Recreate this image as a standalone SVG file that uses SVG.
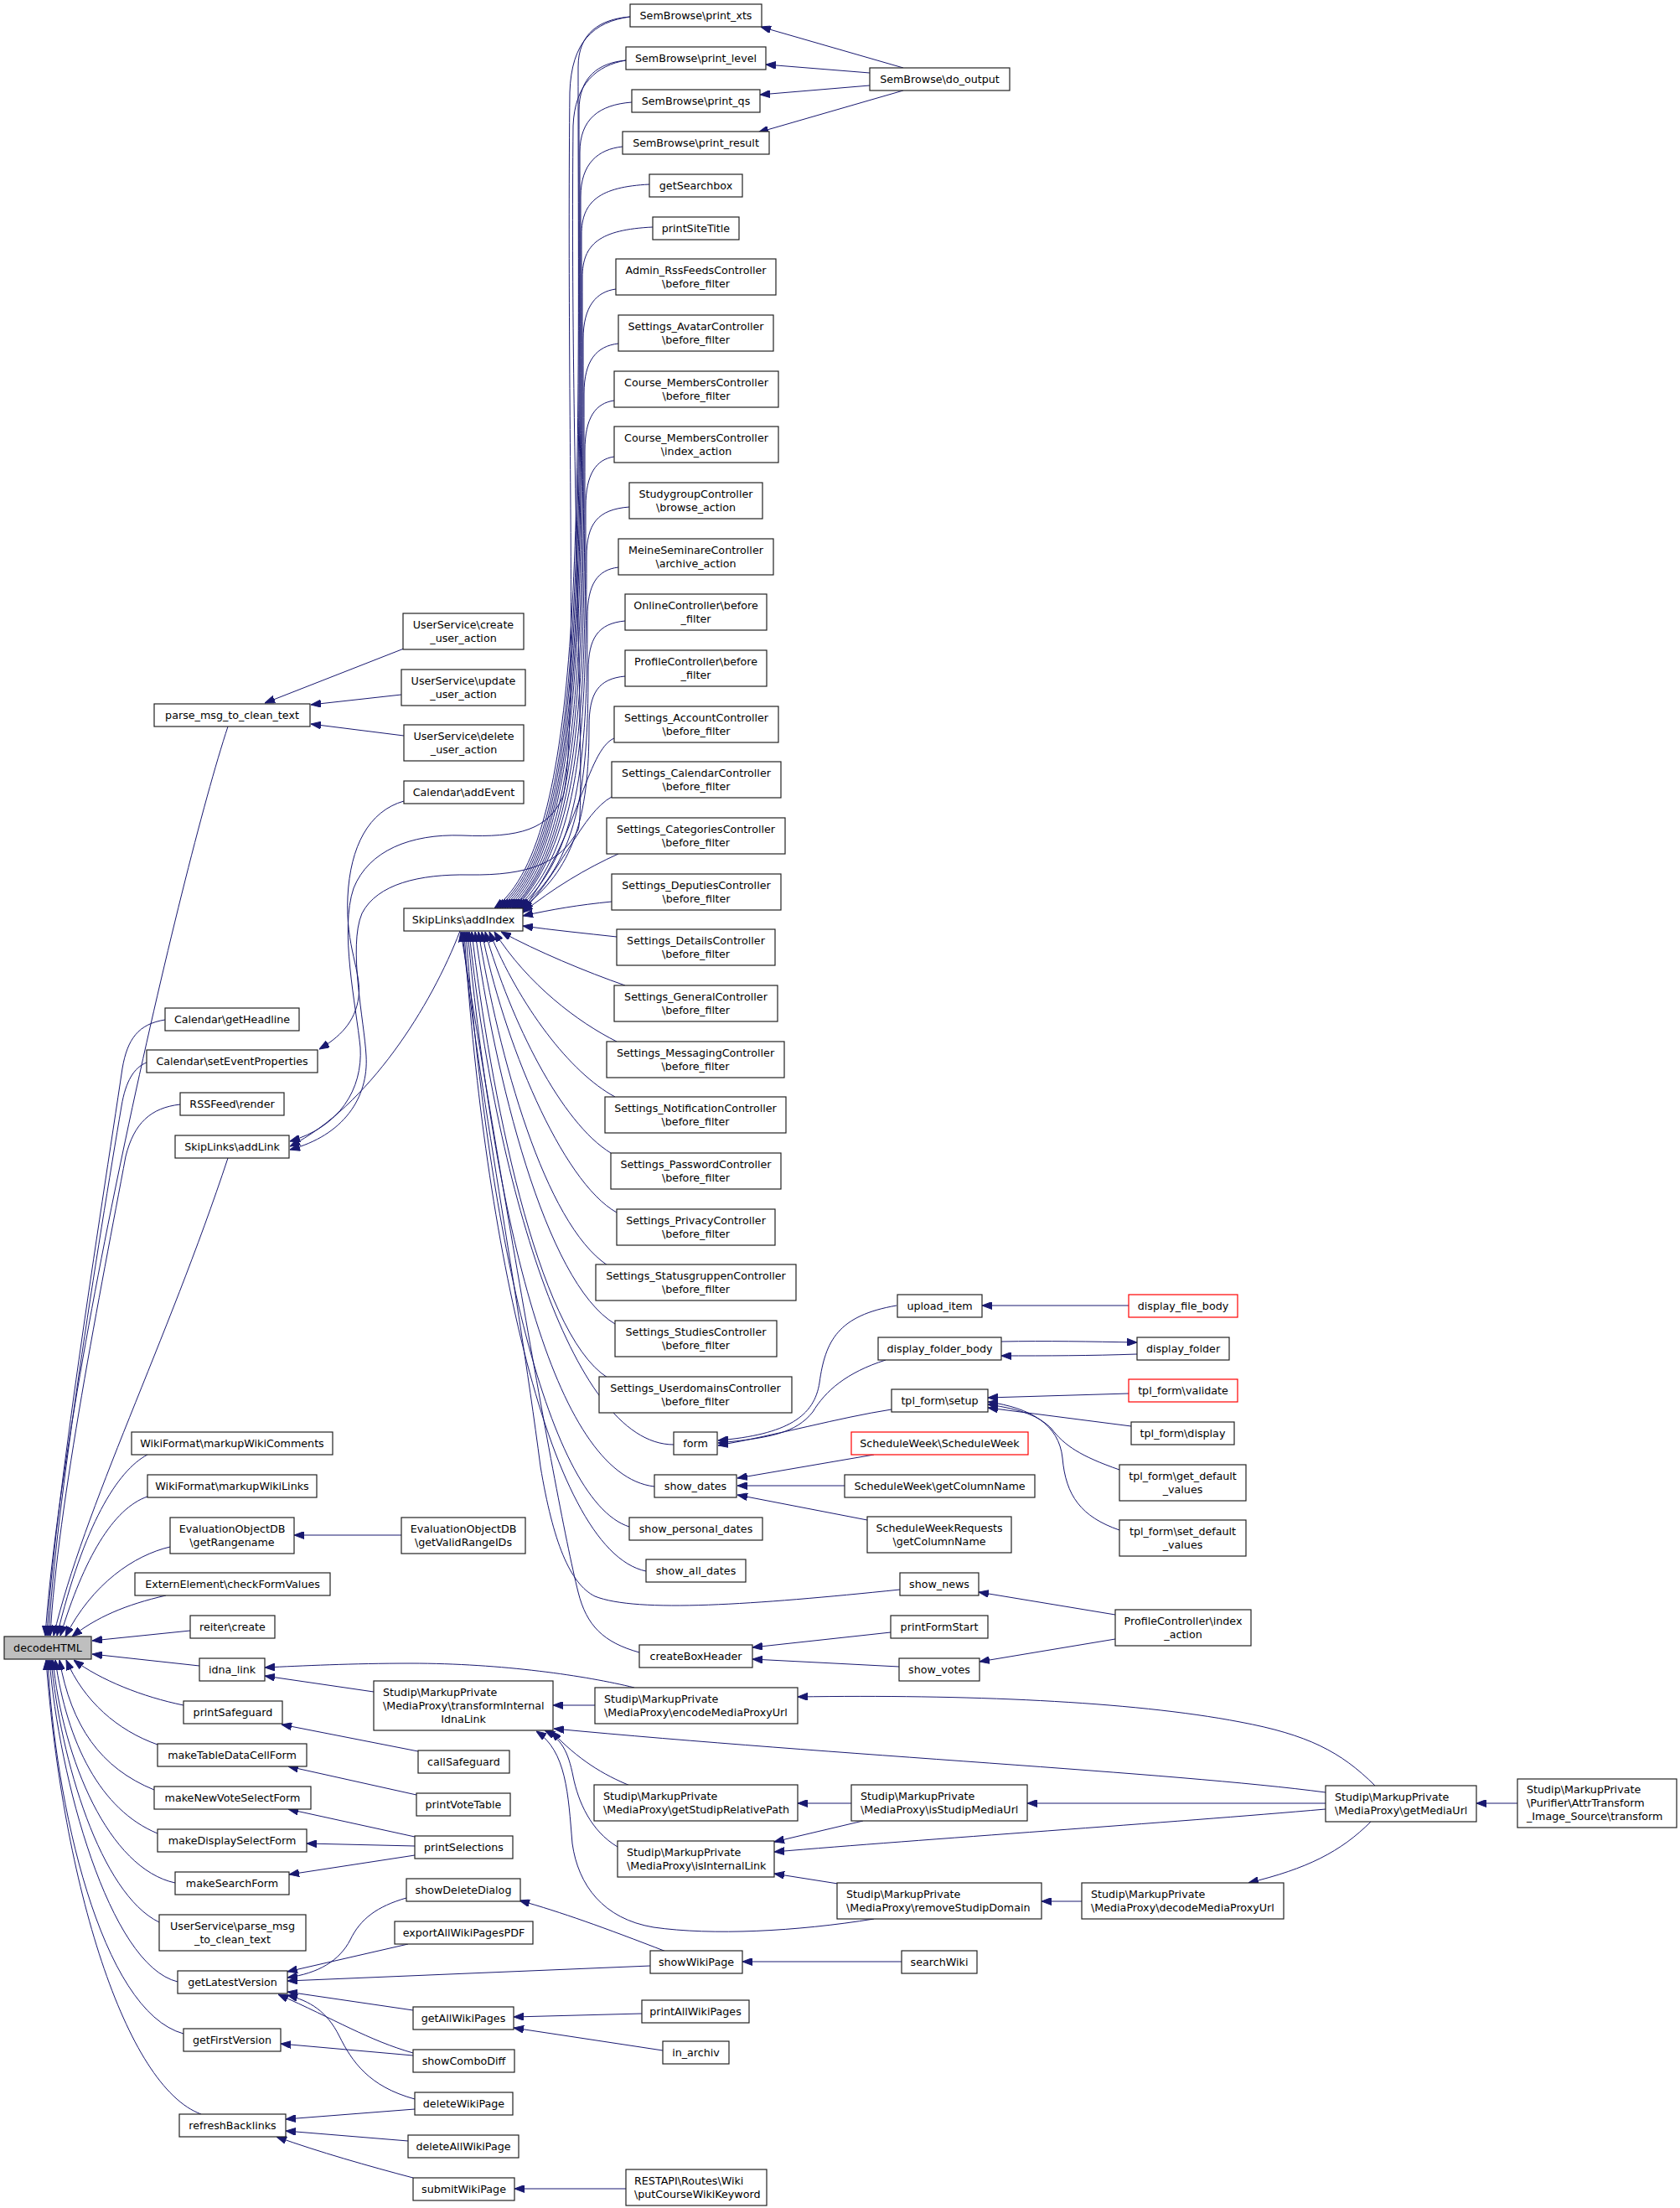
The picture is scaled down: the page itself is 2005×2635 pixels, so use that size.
<svg xmlns="http://www.w3.org/2000/svg" width="2005" height="2635" viewBox="0 0 2005 2635">
<defs>
<marker id="a" markerWidth="12" markerHeight="9" refX="12" refY="4.5" orient="auto" markerUnits="userSpaceOnUse"><path d="M0,0 L12,4.5 L0,9 z" fill="#191970" stroke="#191970" stroke-width="1"/></marker>
<style>
.n rect{fill:#fff;stroke:#222;stroke-width:1.2}
.r rect{stroke:#ff0000}
.g rect{fill:#bfbfbf}
text{font-family:"DejaVu Sans","Liberation Sans",sans-serif;font-size:12.7px;fill:#000}
.c{text-anchor:middle}
#edges path{fill:none;stroke:#191970;stroke-width:1;marker-end:url(#a)}
</style>
</defs>
<rect x="0" y="0" width="2005" height="2635" fill="#fff"/>
<g id="edges">
<path d="M272,867 C215,1040 75,1650 54,1952"/>
<path d="M197,1217 C165,1222 152,1240 146,1275 C120,1450 64,1800 56,1952"/>
<path d="M175,1268 C160,1274 150,1290 145,1320 C118,1480 66,1800 58,1952"/>
<path d="M215,1318 C180,1322 160,1340 150,1380 C122,1530 68,1800 60,1952"/>
<path d="M272,1382 C200,1600 100,1800 64,1952"/>
<path d="M176,1736 C140,1755 100,1820 68,1952"/>
<path d="M176,1786 C135,1800 100,1860 72,1952"/>
<path d="M203,1846 C160,1856 110,1890 78,1953"/>
<path d="M198,1904 C150,1915 115,1930 86,1953"/>
<path d="M227,1946 L110,1958"/>
<path d="M238,1988 L110,1974"/>
<path d="M219,2035 C170,2025 120,2005 88,1981"/>
<path d="M188,2082 C140,2065 100,2030 79,1981"/>
<path d="M184,2136 C120,2110 85,2060 71,1981"/>
<path d="M188,2188 C120,2160 80,2080 66,1981"/>
<path d="M209,2247 C130,2230 75,2100 63,1981"/>
<path d="M190,2294 C120,2260 72,2100 61,1981"/>
<path d="M212,2365 C130,2345 70,2120 59,1981"/>
<path d="M219,2427 C120,2400 65,2150 57,1981"/>
<path d="M240,2523 C150,2490 75,2250 55,1981"/>
<path d="M482,774 L316,839"/>
<path d="M479,829 L371,841"/>
<path d="M482,878 L371,864"/>
<path d="M482,956 C440,968 418,1010 415,1070 C412,1130 432,1160 428,1190 C424,1220 405,1238 381,1252"/>
<path d="M549,1111 C515,1200 440,1320 346,1368"/>
<path d="M752,20 C708,26 682,50 680,110 C676,500 690,880 672,950 C655,990 620,1000 551,997 C490,995 440,1015 422,1060 C405,1110 425,1200 430,1250 C433,1300 405,1345 346,1362"/>
<path d="M747,72 C712,78 686,100 684,150 C680,550 700,960 690,990 C670,1030 630,1045 560,1044 C500,1043 450,1055 432,1090 C415,1130 435,1220 437,1260 C440,1310 410,1355 346,1372"/>
<path d="M752,20 C715,23 690,40 690,80 C690,582 702,1000 590,1084"/>
<path d="M747,72 C714,75 691,92 691,132 C691,608 702,1000 593,1084"/>
<path d="M754,122 C715,125 692,142 692,182 C692,633 701,1000 596,1084"/>
<path d="M743,175 C714,178 693,195 693,235 C693,660 700,1000 599,1084"/>
<path d="M775,220 C716,223 694,240 694,280 C694,682 699,1000 602,1084"/>
<path d="M779,271 C716,274 695,291 695,331 C695,708 698,1000 605,1084"/>
<path d="M735,345 C712,348 696,365 696,405 C696,745 697,1000 608,1084"/>
<path d="M738,410 C712,413 697,430 697,470 C697,777 696,1000 611,1084"/>
<path d="M733,478 C711,481 698,498 698,538 C698,811 695,1000 613,1084"/>
<path d="M733,545 C712,548 699,565 699,605 C699,845 694,1000 615,1084"/>
<path d="M751,605 C713,608 700,625 700,665 C700,875 692,1010 617,1084"/>
<path d="M738,677 C713,680 701,697 701,737 C701,910 690,1020 619,1084"/>
<path d="M746,741 C714,744 702,761 702,801 C702,942 688,1030 621,1084"/>
<path d="M746,807 C714,810 703,827 703,867 C703,975 684,1040 622,1084"/>
<path d="M733,881 C700,895 690,1000 624,1085"/>
<path d="M730,951 C695,970 670,1040 624,1087"/>
<path d="M738,1019 C700,1036 660,1060 624,1089"/>
<path d="M730,1076 C690,1080 660,1085 624,1093"/>
<path d="M736,1118 C700,1114 660,1110 624,1105"/>
<path d="M746,1176 C700,1160 640,1135 598,1112"/>
<path d="M736,1243 C690,1220 630,1175 590,1112"/>
<path d="M734,1309 C680,1280 620,1200 584,1112"/>
<path d="M729,1376 C670,1340 610,1220 579,1112"/>
<path d="M736,1447 C670,1410 600,1240 575,1112"/>
<path d="M725,1510 C650,1460 595,1260 571,1112"/>
<path d="M734,1580 C650,1530 590,1280 567,1112"/>
<path d="M725,1644 C640,1590 585,1300 563,1112"/>
<path d="M804,1724 C680,1724 590,1400 560,1112"/>
<path d="M781,1774 C660,1760 590,1450 558,1112"/>
<path d="M751,1822 C650,1790 580,1450 556,1112"/>
<path d="M771,1875 C650,1850 575,1450 554,1112"/>
<path d="M1074,1897 C900,1915 760,1925 710,1905 C680,1890 660,1840 645,1750 C615,1520 565,1260 552,1112"/>
<path d="M763,1972 C720,1960 700,1940 690,1900 C660,1780 580,1300 550,1112"/>
<path d="M1078,81 L908,32"/>
<path d="M1038,87 L914,77"/>
<path d="M1038,102 L907,113"/>
<path d="M1078,108 L905,158"/>
<path d="M1070,1558 C1000,1570 985,1600 978,1650 C972,1690 940,1712 857,1719"/>
<path d="M1057,1623 C1010,1638 985,1660 970,1685 C950,1710 920,1716 857,1722"/>
<path d="M1064,1682 C1000,1692 930,1712 857,1725"/>
<path d="M1347,1558 L1172,1558"/>
<path d="M1195,1601 C1250,1600 1300,1601 1357,1602"/>
<path d="M1357,1616 C1300,1618 1250,1618 1195,1618"/>
<path d="M1347,1663 L1179,1668"/>
<path d="M1350,1702 L1179,1680"/>
<path d="M1336,1754 C1290,1738 1270,1725 1255,1705 C1240,1690 1220,1682 1179,1676"/>
<path d="M1336,1826 C1290,1810 1272,1785 1268,1740 C1264,1700 1230,1680 1179,1673"/>
<path d="M1043,1736 L880,1764"/>
<path d="M1008,1773 L880,1773"/>
<path d="M1035,1814 L880,1784"/>
<path d="M1331,1927 L1168,1900"/>
<path d="M1331,1956 L1169,1983"/>
<path d="M1063,1948 L898,1966"/>
<path d="M1073,1989 L898,1980"/>
<path d="M757,2014 C700,2000 600,1985 490,1985 C420,1985 360,1988 316,1990"/>
<path d="M446,2019 L316,2000"/>
<path d="M710,2035 L660,2035"/>
<path d="M1582,2139 C1400,2115 1000,2095 661,2063"/>
<path d="M1641,2131 C1600,2090 1560,2070 1480,2055 C1350,2030 1150,2022 952,2025"/>
<path d="M1582,2152 L1226,2152"/>
<path d="M1582,2159 C1400,2175 1100,2195 924,2210"/>
<path d="M1811,2152 L1762,2152"/>
<path d="M1636,2174 C1600,2210 1560,2230 1490,2247"/>
<path d="M1291,2269 L1243,2269"/>
<path d="M1016,2152 L952,2152"/>
<path d="M1030,2173 L924,2198"/>
<path d="M1000,2248 L924,2236"/>
<path d="M752,2131 C720,2118 690,2100 658,2066"/>
<path d="M737,2204 C705,2185 690,2150 684,2120 C678,2090 670,2075 650,2065"/>
<path d="M1043,2290 C950,2305 850,2310 780,2300 C720,2290 690,2250 683,2200 C678,2140 676,2090 640,2066"/>
<path d="M499,2090 L336,2058"/>
<path d="M497,2142 L344,2108"/>
<path d="M495,2192 L344,2159"/>
<path d="M495,2203 L366,2200"/>
<path d="M495,2214 L345,2237"/>
<path d="M795,2329 C720,2300 670,2282 620,2268"/>
<path d="M1076,2341 L886,2341"/>
<path d="M485,2265 C450,2275 430,2290 418,2315 C405,2340 380,2355 343,2360"/>
<path d="M487,2320 L343,2353"/>
<path d="M776,2346 L343,2364"/>
<path d="M493,2399 L343,2377"/>
<path d="M493,2450 C440,2435 400,2410 332,2380"/>
<path d="M495,2505 C440,2490 420,2460 405,2430 C390,2400 370,2388 343,2381"/>
<path d="M766,2403 L613,2407"/>
<path d="M791,2447 L613,2420"/>
<path d="M493,2453 L335,2439"/>
<path d="M495,2517 L341,2529"/>
<path d="M487,2555 L341,2543"/>
<path d="M493,2599 C440,2585 380,2568 330,2550"/>
<path d="M747,2612 L614,2612"/>
<path d="M479,1832 L351,1832"/>
</g>

<g id="n_decodeHTML" class="n g"><rect x="5" y="1953" width="104" height="27"/><text x="57" y="1971" class="c">decodeHTML</text></g>
<g id="n_parse_msg" class="n"><rect x="184" y="840" width="186" height="27"/><text x="277" y="858" class="c">parse_msg_to_clean_text</text></g>
<g id="n_us_create" class="n"><rect x="481" y="732" width="144" height="43"/><text x="553" y="750" class="c">UserService\create</text><text x="553" y="766" class="c">_user_action</text></g>
<g id="n_us_update" class="n"><rect x="479" y="799" width="148" height="43"/><text x="553" y="817" class="c">UserService\update</text><text x="553" y="833" class="c">_user_action</text></g>
<g id="n_us_delete" class="n"><rect x="482" y="865" width="143" height="43"/><text x="553.5" y="883" class="c">UserService\delete</text><text x="553.5" y="899" class="c">_user_action</text></g>
<g id="n_addEvent" class="n"><rect x="482" y="932" width="143" height="27"/><text x="553.5" y="950" class="c">Calendar\addEvent</text></g>
<g id="n_addIndex" class="n"><rect x="482" y="1084" width="142" height="27"/><text x="553" y="1102" class="c">SkipLinks\addIndex</text></g>
<g id="n_getHeadline" class="n"><rect x="197" y="1203" width="160" height="27"/><text x="277" y="1221" class="c">Calendar\getHeadline</text></g>
<g id="n_setEventProperties" class="n"><rect x="175" y="1253" width="204" height="27"/><text x="277" y="1271" class="c">Calendar\setEventProperties</text></g>
<g id="n_rss" class="n"><rect x="215" y="1304" width="124" height="27"/><text x="277" y="1322" class="c">RSSFeed\render</text></g>
<g id="n_addLink" class="n"><rect x="209" y="1355" width="136" height="27"/><text x="277" y="1373" class="c">SkipLinks\addLink</text></g>
<g id="n_wikiComments" class="n"><rect x="157" y="1709" width="240" height="27"/><text x="277" y="1727" class="c">WikiFormat\markupWikiComments</text></g>
<g id="n_wikiLinks" class="n"><rect x="176" y="1760" width="202" height="27"/><text x="277" y="1778" class="c">WikiFormat\markupWikiLinks</text></g>
<g id="n_getRangename" class="n"><rect x="203" y="1811" width="148" height="43"/><text x="277" y="1829" class="c">EvaluationObjectDB</text><text x="277" y="1845" class="c">\getRangename</text></g>
<g id="n_getValidRangeIDs" class="n"><rect x="479" y="1811" width="148" height="43"/><text x="553" y="1829" class="c">EvaluationObjectDB</text><text x="553" y="1845" class="c">\getValidRangeIDs</text></g>
<g id="n_extern" class="n"><rect x="161" y="1877" width="233" height="27"/><text x="277.5" y="1895" class="c">ExternElement\checkFormValues</text></g>
<g id="n_reiter" class="n"><rect x="227" y="1928" width="101" height="27"/><text x="277.5" y="1946" class="c">reiter\create</text></g>
<g id="n_idna" class="n"><rect x="238" y="1979" width="78" height="27"/><text x="277" y="1997" class="c">idna_link</text></g>
<g id="n_printSafeguard" class="n"><rect x="219" y="2030" width="118" height="27"/><text x="278" y="2048" class="c">printSafeguard</text></g>
<g id="n_makeTable" class="n"><rect x="188" y="2081" width="178" height="27"/><text x="277" y="2099" class="c">makeTableDataCellForm</text></g>
<g id="n_makeNewVote" class="n"><rect x="184" y="2132" width="187" height="27"/><text x="277.5" y="2150" class="c">makeNewVoteSelectForm</text></g>
<g id="n_makeDisplay" class="n"><rect x="188" y="2183" width="178" height="27"/><text x="277" y="2201" class="c">makeDisplaySelectForm</text></g>
<g id="n_makeSearch" class="n"><rect x="209" y="2234" width="136" height="27"/><text x="277" y="2252" class="c">makeSearchForm</text></g>
<g id="n_us_parse" class="n"><rect x="190" y="2285" width="175" height="43"/><text x="277.5" y="2303" class="c">UserService\parse_msg</text><text x="277.5" y="2319" class="c">_to_clean_text</text></g>
<g id="n_getLatest" class="n"><rect x="212" y="2352" width="131" height="27"/><text x="277.5" y="2370" class="c">getLatestVersion</text></g>
<g id="n_getFirst" class="n"><rect x="219" y="2421" width="116" height="27"/><text x="277" y="2439" class="c">getFirstVersion</text></g>
<g id="n_refresh" class="n"><rect x="214" y="2523" width="127" height="27"/><text x="277.5" y="2541" class="c">refreshBacklinks</text></g>

<g id="n_transform" class="n"><rect x="446" y="2006" width="214" height="59"/><text x="457" y="2024">Studip\MarkupPrivate</text><text x="457" y="2040">\MediaProxy\transformInternal</text><text x="553" y="2056" class="c">IdnaLink</text></g>
<g id="n_callSafeguard" class="n"><rect x="499" y="2089" width="109" height="27"/><text x="553.5" y="2107" class="c">callSafeguard</text></g>
<g id="n_printVoteTable" class="n"><rect x="497" y="2140" width="112" height="27"/><text x="553" y="2158" class="c">printVoteTable</text></g>
<g id="n_printSelections" class="n"><rect x="495" y="2191" width="117" height="27"/><text x="553.5" y="2209" class="c">printSelections</text></g>
<g id="n_showDeleteDialog" class="n"><rect x="485" y="2242" width="136" height="27"/><text x="553" y="2260" class="c">showDeleteDialog</text></g>
<g id="n_exportAll" class="n"><rect x="471" y="2293" width="165" height="27"/><text x="553.5" y="2311" class="c">exportAllWikiPagesPDF</text></g>
<g id="n_getAllWiki" class="n"><rect x="493" y="2395" width="120" height="27"/><text x="553" y="2413" class="c">getAllWikiPages</text></g>
<g id="n_showComboDiff" class="n"><rect x="493" y="2446" width="121" height="27"/><text x="553.5" y="2464" class="c">showComboDiff</text></g>
<g id="n_deleteWiki" class="n"><rect x="495" y="2497" width="117" height="27"/><text x="553.5" y="2515" class="c">deleteWikiPage</text></g>
<g id="n_deleteAll" class="n"><rect x="487" y="2548" width="132" height="27"/><text x="553" y="2566" class="c">deleteAllWikiPage</text></g>
<g id="n_submitWiki" class="n"><rect x="493" y="2599" width="121" height="27"/><text x="553.5" y="2617" class="c">submitWikiPage</text></g>

<g id="n_print_xts" class="n"><rect x="752" y="5" width="157" height="27"/><text x="830.5" y="23" class="c">SemBrowse\print_xts</text></g>
<g id="n_print_level" class="n"><rect x="747" y="56" width="167" height="27"/><text x="830.5" y="74" class="c">SemBrowse\print_level</text></g>
<g id="n_print_qs" class="n"><rect x="754" y="107" width="153" height="27"/><text x="830.5" y="125" class="c">SemBrowse\print_qs</text></g>
<g id="n_print_result" class="n"><rect x="743" y="157" width="175" height="27"/><text x="830.5" y="175" class="c">SemBrowse\print_result</text></g>
<g id="n_getSearchbox" class="n"><rect x="775" y="208" width="111" height="27"/><text x="830.5" y="226" class="c">getSearchbox</text></g>
<g id="n_printSiteTitle" class="n"><rect x="779" y="259" width="103" height="27"/><text x="830.5" y="277" class="c">printSiteTitle</text></g>
<g id="n_adminRss" class="n"><rect x="735" y="309" width="191" height="43"/><text x="830.5" y="327" class="c">Admin_RssFeedsController</text><text x="830.5" y="343" class="c">\before_filter</text></g>
<g id="n_avatar" class="n"><rect x="738" y="376" width="185" height="43"/><text x="830.5" y="394" class="c">Settings_AvatarController</text><text x="830.5" y="410" class="c">\before_filter</text></g>
<g id="n_cmBefore" class="n"><rect x="733" y="443" width="196" height="43"/><text x="831" y="461" class="c">Course_MembersController</text><text x="831" y="477" class="c">\before_filter</text></g>
<g id="n_cmIndex" class="n"><rect x="733" y="509" width="196" height="43"/><text x="831" y="527" class="c">Course_MembersController</text><text x="831" y="543" class="c">\index_action</text></g>
<g id="n_studygroup" class="n"><rect x="751" y="576" width="159" height="43"/><text x="830.5" y="594" class="c">StudygroupController</text><text x="830.5" y="610" class="c">\browse_action</text></g>
<g id="n_meineSem" class="n"><rect x="738" y="643" width="185" height="43"/><text x="830.5" y="661" class="c">MeineSeminareController</text><text x="830.5" y="677" class="c">\archive_action</text></g>
<g id="n_online" class="n"><rect x="746" y="709" width="169" height="43"/><text x="830.5" y="727" class="c">OnlineController\before</text><text x="830.5" y="743" class="c">_filter</text></g>
<g id="n_profileBefore" class="n"><rect x="746" y="776" width="169" height="43"/><text x="830.5" y="794" class="c">ProfileController\before</text><text x="830.5" y="810" class="c">_filter</text></g>
<g id="n_account" class="n"><rect x="733" y="843" width="196" height="43"/><text x="831" y="861" class="c">Settings_AccountController</text><text x="831" y="877" class="c">\before_filter</text></g>
<g id="n_calendarC" class="n"><rect x="730" y="909" width="202" height="43"/><text x="831" y="927" class="c">Settings_CalendarController</text><text x="831" y="943" class="c">\before_filter</text></g>
<g id="n_categories" class="n"><rect x="724" y="976" width="213" height="43"/><text x="830.5" y="994" class="c">Settings_CategoriesController</text><text x="830.5" y="1010" class="c">\before_filter</text></g>
<g id="n_deputies" class="n"><rect x="730" y="1043" width="202" height="43"/><text x="831" y="1061" class="c">Settings_DeputiesController</text><text x="831" y="1077" class="c">\before_filter</text></g>
<g id="n_details" class="n"><rect x="736" y="1109" width="189" height="43"/><text x="830.5" y="1127" class="c">Settings_DetailsController</text><text x="830.5" y="1143" class="c">\before_filter</text></g>
<g id="n_general" class="n"><rect x="733" y="1176" width="195" height="43"/><text x="830.5" y="1194" class="c">Settings_GeneralController</text><text x="830.5" y="1210" class="c">\before_filter</text></g>
<g id="n_messaging" class="n"><rect x="724" y="1243" width="212" height="43"/><text x="830" y="1261" class="c">Settings_MessagingController</text><text x="830" y="1277" class="c">\before_filter</text></g>
<g id="n_notification" class="n"><rect x="722" y="1309" width="216" height="43"/><text x="830" y="1327" class="c">Settings_NotificationController</text><text x="830" y="1343" class="c">\before_filter</text></g>
<g id="n_password" class="n"><rect x="729" y="1376" width="203" height="43"/><text x="830.5" y="1394" class="c">Settings_PasswordController</text><text x="830.5" y="1410" class="c">\before_filter</text></g>
<g id="n_privacy" class="n"><rect x="736" y="1443" width="189" height="43"/><text x="830.5" y="1461" class="c">Settings_PrivacyController</text><text x="830.5" y="1477" class="c">\before_filter</text></g>
<g id="n_statusgruppen" class="n"><rect x="711" y="1509" width="239" height="43"/><text x="830.5" y="1527" class="c">Settings_StatusgruppenController</text><text x="830.5" y="1543" class="c">\before_filter</text></g>
<g id="n_studies" class="n"><rect x="734" y="1576" width="193" height="43"/><text x="830.5" y="1594" class="c">Settings_StudiesController</text><text x="830.5" y="1610" class="c">\before_filter</text></g>
<g id="n_userdomains" class="n"><rect x="715" y="1643" width="230" height="43"/><text x="830" y="1661" class="c">Settings_UserdomainsController</text><text x="830" y="1677" class="c">\before_filter</text></g>
<g id="n_form" class="n"><rect x="804" y="1709" width="52" height="27"/><text x="830" y="1727" class="c">form</text></g>
<g id="n_show_dates" class="n"><rect x="781" y="1760" width="98" height="27"/><text x="830" y="1778" class="c">show_dates</text></g>
<g id="n_show_personal_dates" class="n"><rect x="751" y="1811" width="159" height="27"/><text x="830.5" y="1829" class="c">show_personal_dates</text></g>
<g id="n_show_all_dates" class="n"><rect x="771" y="1861" width="119" height="27"/><text x="830.5" y="1879" class="c">show_all_dates</text></g>
<g id="n_createBoxHeader" class="n"><rect x="763" y="1963" width="135" height="27"/><text x="830.5" y="1981" class="c">createBoxHeader</text></g>
<g id="n_encode" class="n"><rect x="710" y="2014" width="242" height="43"/><text x="721" y="2032">Studip\MarkupPrivate</text><text x="721" y="2048">\MediaProxy\encodeMediaProxyUrl</text></g>
<g id="n_getStudipRel" class="n"><rect x="709" y="2130" width="243" height="43"/><text x="720" y="2148">Studip\MarkupPrivate</text><text x="720" y="2164">\MediaProxy\getStudipRelativePath</text></g>
<g id="n_isInternal" class="n"><rect x="737" y="2197" width="187" height="43"/><text x="748" y="2215">Studip\MarkupPrivate</text><text x="748" y="2231">\MediaProxy\isInternalLink</text></g>
<g id="n_showWikiPage" class="n"><rect x="776" y="2328" width="110" height="27"/><text x="831" y="2346" class="c">showWikiPage</text></g>
<g id="n_printAllWiki" class="n"><rect x="766" y="2387" width="128" height="27"/><text x="830" y="2405" class="c">printAllWikiPages</text></g>
<g id="n_in_archiv" class="n"><rect x="791" y="2436" width="79" height="27"/><text x="830.5" y="2454" class="c">in_archiv</text></g>
<g id="n_restapi" class="n"><rect x="747" y="2589" width="168" height="43"/><text x="757" y="2607">RESTAPI\Routes\Wiki</text><text x="757" y="2623">\putCourseWikiKeyword</text></g>

<g id="n_do_output" class="n"><rect x="1038" y="81" width="167" height="27"/><text x="1121.5" y="99" class="c">SemBrowse\do_output</text></g>
<g id="n_upload_item" class="n"><rect x="1071" y="1545" width="101" height="27"/><text x="1121.5" y="1563" class="c">upload_item</text></g>
<g id="n_display_folder_body" class="n"><rect x="1048" y="1596" width="147" height="27"/><text x="1121.5" y="1614" class="c">display_folder_body</text></g>
<g id="n_tpl_setup" class="n"><rect x="1064" y="1658" width="115" height="27"/><text x="1121.5" y="1676" class="c">tpl_form\setup</text></g>
<g id="n_sw" class="n r"><rect x="1016" y="1709" width="211" height="27"/><text x="1121.5" y="1727" class="c">ScheduleWeek\ScheduleWeek</text></g>
<g id="n_sw_col" class="n"><rect x="1008" y="1760" width="227" height="27"/><text x="1121.5" y="1778" class="c">ScheduleWeek\getColumnName</text></g>
<g id="n_swr_col" class="n"><rect x="1035" y="1810" width="172" height="43"/><text x="1121" y="1828" class="c">ScheduleWeekRequests</text><text x="1121" y="1844" class="c">\getColumnName</text></g>
<g id="n_show_news" class="n"><rect x="1074" y="1877" width="94" height="27"/><text x="1121" y="1895" class="c">show_news</text></g>
<g id="n_printFormStart" class="n"><rect x="1063" y="1928" width="116" height="27"/><text x="1121" y="1946" class="c">printFormStart</text></g>
<g id="n_show_votes" class="n"><rect x="1073" y="1979" width="96" height="27"/><text x="1121" y="1997" class="c">show_votes</text></g>
<g id="n_isStudipMediaUrl" class="n"><rect x="1016" y="2130" width="210" height="43"/><text x="1027" y="2148">Studip\MarkupPrivate</text><text x="1027" y="2164">\MediaProxy\isStudipMediaUrl</text></g>
<g id="n_removeStudipDomain" class="n"><rect x="999" y="2247" width="244" height="43"/><text x="1010" y="2265">Studip\MarkupPrivate</text><text x="1010" y="2281">\MediaProxy\removeStudipDomain</text></g>
<g id="n_searchWiki" class="n"><rect x="1076" y="2328" width="90" height="27"/><text x="1121" y="2346" class="c">searchWiki</text></g>

<g id="n_display_file_body" class="n r"><rect x="1347" y="1545" width="130" height="27"/><text x="1412" y="1563" class="c">display_file_body</text></g>
<g id="n_display_folder" class="n"><rect x="1357" y="1596" width="110" height="27"/><text x="1412" y="1614" class="c">display_folder</text></g>
<g id="n_tpl_validate" class="n r"><rect x="1347" y="1646" width="130" height="27"/><text x="1412" y="1664" class="c">tpl_form\validate</text></g>
<g id="n_tpl_display" class="n"><rect x="1350" y="1697" width="123" height="27"/><text x="1411.5" y="1715" class="c">tpl_form\display</text></g>
<g id="n_tpl_get" class="n"><rect x="1336" y="1748" width="151" height="43"/><text x="1411.5" y="1766" class="c">tpl_form\get_default</text><text x="1411.5" y="1782" class="c">_values</text></g>
<g id="n_tpl_set" class="n"><rect x="1336" y="1814" width="151" height="43"/><text x="1411.5" y="1832" class="c">tpl_form\set_default</text><text x="1411.5" y="1848" class="c">_values</text></g>
<g id="n_profileIndex" class="n"><rect x="1331" y="1921" width="162" height="43"/><text x="1412" y="1939" class="c">ProfileController\index</text><text x="1412" y="1955" class="c">_action</text></g>
<g id="n_decodeMP" class="n"><rect x="1291" y="2247" width="241" height="43"/><text x="1302" y="2265">Studip\MarkupPrivate</text><text x="1302" y="2281">\MediaProxy\decodeMediaProxyUrl</text></g>
<g id="n_getMediaUrl" class="n"><rect x="1582" y="2131" width="180" height="43"/><text x="1593" y="2149">Studip\MarkupPrivate</text><text x="1593" y="2165">\MediaProxy\getMediaUrl</text></g>
<g id="n_purifier" class="n"><rect x="1811" y="2123" width="190" height="58"/><text x="1822" y="2140">Studip\MarkupPrivate</text><text x="1822" y="2156">\Purifier\AttrTransform</text><text x="1822" y="2172">_Image_Source\transform</text></g>
</svg>
